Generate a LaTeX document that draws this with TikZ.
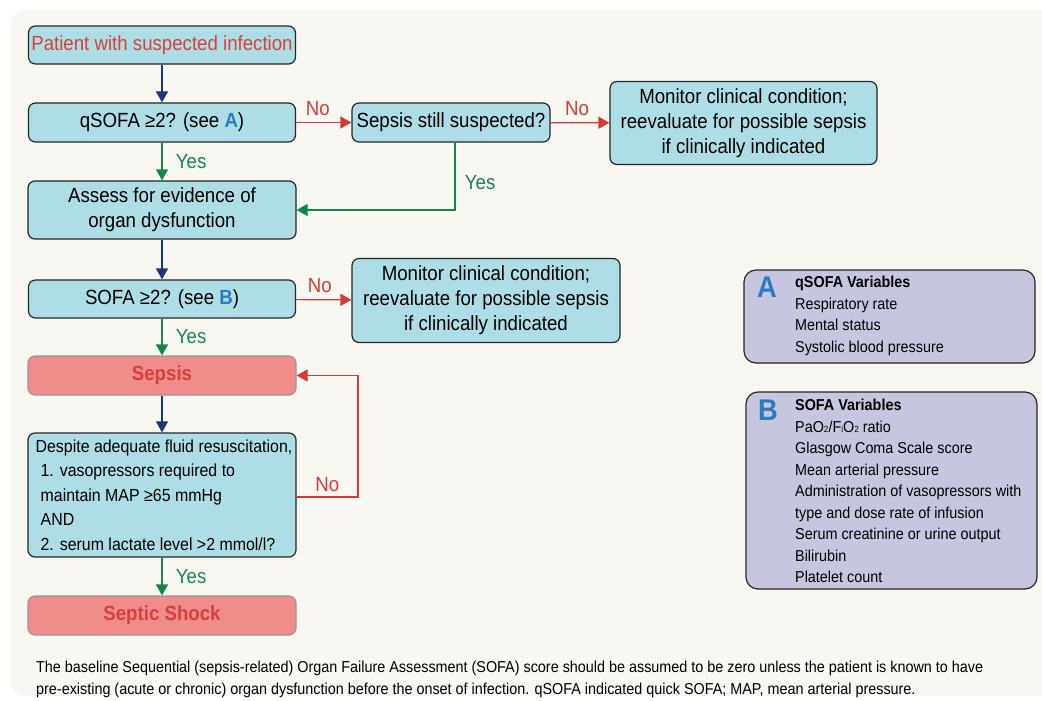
\documentclass[tikz,border=0pt]{standalone}
\usepackage{fontspec}
\setmainfont{Liberation Sans}[FakeStretch=0.91]
\usetikzlibrary{arrows.meta}

\definecolor{bgcream}{HTML}{F8F7F1}
\definecolor{boxcyan}{HTML}{AEDEE5}
\definecolor{boxpink}{HTML}{F08C8A}
\definecolor{alertred}{HTML}{D8403A}
\definecolor{legendlav}{HTML}{C6C7DE}
\definecolor{arrowblue}{HTML}{1B3775}
\definecolor{yesgreen}{HTML}{14884A}
\definecolor{nored}{HTML}{D63A35}
\definecolor{letterblue}{HTML}{2B7BC0}

\tikzset{
  flowbox/.style={draw=black!85, fill=boxcyan, line width=1.2pt, rounded corners=7pt,
    align=center, inner sep=0pt, font=\fontsize{20.5}{25}\selectfont},
  alertbox/.style={draw=black!40, fill=boxpink, line width=1.2pt, rounded corners=7pt,
    inner sep=0pt, text=alertred, font=\fontsize{20.5}{25}\selectfont\bfseries},
  legendbox/.style={draw=black!85, fill=legendlav, line width=1.2pt, rounded corners=12pt},
  tip/.style={-{Triangle[length=11pt,width=12pt]}},
  blueflow/.style={tip, draw=arrowblue, line width=1.2pt},
  yesflow/.style={tip, draw=yesgreen, line width=1.2pt},
  noflow/.style={tip, draw=nored, line width=1.2pt},
  yeslabel/.style={text=yesgreen, font=\fontsize{20.5}{25}\selectfont},
  nolabel/.style={text=nored, font=\fontsize{20.5}{25}\selectfont},
  legendtext/.style={anchor=north west, align=left, inner sep=0pt,
    font=\fontsize{15.8}{21.5}\selectfont}
}
\newcommand{\seeref}[1]{\textcolor{letterblue}{\bfseries #1}}
\newcommand{\lowsub}[1]{\raisebox{-0.5pt}{\fontsize{9}{9}\selectfont #1}}

\begin{document}
\begin{tikzpicture}[x=1pt,y=-1pt]
\useasboundingbox (0,0) rectangle (1042,701);
\begin{scope}
\clip (0,0) rectangle (1042,701);
\fill[bgcream, rounded corners=16pt] (10,10) rectangle (1070,696);
\end{scope}

% left column
\node[flowbox, minimum width=267pt, minimum height=38pt, text=alertred] (start) at (162,45) {Patient with suspected infection};
\node[flowbox, minimum width=267pt, minimum height=39pt] (qsofa) at (162,122.5) {qSOFA ≥2? (see \seeref{A})};
\node[flowbox, minimum width=268pt, minimum height=58pt] (assess) at (162,210) {Assess for evidence of\\organ dysfunction};
\node[flowbox, minimum width=267pt, minimum height=38pt] (sofa) at (162,299) {SOFA ≥2? (see \seeref{B})};
\node[alertbox, minimum width=268pt, minimum height=39pt] (sepsis) at (162,375.5) {Sepsis};
\node[flowbox, minimum width=268pt, minimum height=124pt, align=left, font=\fontsize{17.5}{24.5}\selectfont] (despite) at (162,495)
  {\hspace*{4pt}Despite adequate fluid resuscitation,\\
   \hspace*{9pt}1. vasopressors required to\\
   \hspace*{9pt}maintain MAP ≥65 mmHg\\
   \hspace*{9pt}AND\\
   \hspace*{9pt}2. serum lactate level >2 mmol/l?};
\node[alertbox, minimum width=268pt, minimum height=39pt] (shock) at (162,615.5) {Septic Shock};

% right branches
\node[flowbox, minimum width=198pt, minimum height=39pt] (still) at (451,122.5) {Sepsis still suspected?};
\node[flowbox, minimum width=267pt, minimum height=83pt] (monitorA) at (743.5,123) {Monitor clinical condition;\\reevaluate for possible sepsis\\if clinically indicated};
\node[flowbox, minimum width=268pt, minimum height=84pt] (monitorB) at (486,300.5) {Monitor clinical condition;\\reevaluate for possible sepsis\\if clinically indicated};

% connectors
\draw[blueflow] (start) -- (qsofa);
\draw[yesflow] (qsofa) -- node[yeslabel, right=10pt] {Yes} (assess);
\draw[noflow] (qsofa) -- node[nolabel, above=3pt, xshift=-6pt] {No} (still);
\draw[noflow] (still) -- node[nolabel, above=3pt, xshift=-3pt] {No} (monitorA);
\draw[yesflow] ([xshift=4pt]still.south) |- node[yeslabel, pos=0.3, right=6pt] {Yes} (assess.east);
\draw[blueflow] (assess) -- (sofa);
\draw[noflow] (sofa) -- node[nolabel, above=3pt, xshift=-4pt] {No} (monitorB);
\draw[yesflow] (sofa) -- node[yeslabel, right=10pt] {Yes} (sepsis);
\draw[blueflow] (sepsis) -- (despite);
\coordinate (loop) at (358,497);
\draw[noflow] (despite.east |- loop) -- node[nolabel, above=1pt] {No} (loop) |- (sepsis.east);
\draw[yesflow] (despite) -- node[yeslabel, right=10pt] {Yes} (shock);

% legend
\node[legendbox, minimum width=291pt, minimum height=93pt] (legA) at (889.5,316.5) {};
\node[text=letterblue, font=\fontsize{30}{30}\selectfont\bfseries] (letA) at (767,287) {A};
\node[legendtext] (varsA) at (795,276) {\textbf{qSOFA Variables}\\Respiratory rate\\Mental status\\Systolic blood pressure};

\node[legendbox, minimum width=291pt, minimum height=197pt] (legB) at (891.5,490.5) {};
\node[text=letterblue, font=\fontsize{30}{30}\selectfont\bfseries] (letB) at (768,410) {B};
\node[legendtext] (varsB) at (795,399) {\textbf{SOFA Variables}\\PaO\lowsub{2}/F\lowsub{i}O\lowsub{2} ratio\\Glasgow Coma Scale score\\Mean arterial pressure\\Administration of vasopressors with\\type and dose rate of infusion\\Serum creatinine or urine output\\Bilirubin\\Platelet count};

% footnote
\node[anchor=north west, align=left, inner sep=0pt, font=\fontsize{15.8}{22}\selectfont] (note) at (36,661)
  {The baseline Sequential (sepsis-related) Organ Failure Assessment (SOFA) score should be assumed to be zero unless the patient is known to have\\
   pre-existing (acute or chronic) organ dysfunction before the onset of infection. qSOFA indicated quick SOFA; MAP, mean arterial pressure.};
\end{tikzpicture}
\end{document}
